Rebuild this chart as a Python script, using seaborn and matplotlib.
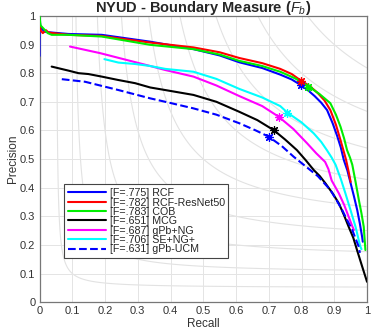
import numpy as np
import matplotlib
matplotlib.use("Agg")
import matplotlib.pyplot as plt
import seaborn as sns

# --- datos ---
methods = ["RCF", "RCF-ResNet50", "COB", "MCG", "gPb+NG", "SE+NG+", "gPb-UCM"]
fscores = [".775", ".782", ".783", ".651", ".687", ".706", ".631"]

rcf_r = [0.0, 0.0, 0.003, 0.015, 0.027, 0.088, 0.19, 0.338, 0.47, 0.55, 0.61, 0.68, 0.735, 0.77, 0.797, 0.82,
         0.84, 0.86, 0.878, 0.895, 0.909, 0.92, 0.929, 0.94, 0.95, 0.96, 0.97, 0.978, 0.985, 0.987]
rcf_p = [0.86, 0.99, 0.96, 0.945, 0.943, 0.937, 0.934, 0.91, 0.884, 0.862, 0.838, 0.818, 0.795, 0.778, 0.759, 0.74,
         0.72, 0.697, 0.671, 0.625, 0.58, 0.54, 0.497, 0.46, 0.415, 0.37, 0.322, 0.275, 0.228, 0.211]

res_r = [0.0, 0.003, 0.01, 0.02, 0.027, 0.088, 0.19, 0.338, 0.47, 0.55, 0.61, 0.68, 0.735, 0.77, 0.797, 0.825,
         0.85, 0.87, 0.888, 0.905, 0.919, 0.928, 0.936, 0.944, 0.95]
res_p = [0.985, 0.95, 0.94, 0.95, 0.942, 0.934, 0.93, 0.907, 0.89, 0.873, 0.853, 0.835, 0.815, 0.797, 0.775, 0.755,
         0.73, 0.705, 0.671, 0.62, 0.566, 0.53, 0.497, 0.455, 0.42]

cob_r = [0.0, 0.003, 0.025, 0.037, 0.088, 0.19, 0.338, 0.47, 0.55, 0.61, 0.68, 0.735, 0.78, 0.82, 0.855, 0.888,
         0.905, 0.919, 0.93, 0.939, 0.948, 0.955, 0.965, 0.975, 0.983, 0.99, 0.995]
cob_p = [1.0, 0.967, 0.94, 0.934, 0.934, 0.928, 0.899, 0.884, 0.865, 0.843, 0.825, 0.805, 0.782, 0.755, 0.727, 0.695,
         0.655, 0.613, 0.572, 0.531, 0.505, 0.48, 0.42, 0.357, 0.31, 0.263, 0.182]

mcg_r = [0.037, 0.088, 0.119, 0.149, 0.19, 0.241, 0.292, 0.338, 0.384, 0.47, 0.54, 0.61, 0.665, 0.715, 0.75, 0.786,
         0.812, 0.837, 0.856, 0.873, 0.895, 0.914, 0.93, 0.944, 0.958, 0.97, 0.985, 1.0]
mcg_p = [0.823, 0.809, 0.80, 0.797, 0.788, 0.776, 0.765, 0.75, 0.741, 0.724, 0.70, 0.665, 0.636, 0.601, 0.568, 0.531,
         0.497, 0.462, 0.44, 0.415, 0.38, 0.345, 0.303, 0.263, 0.225, 0.18, 0.125, 0.071]

ng_r = [0.093, 0.185, 0.338, 0.384, 0.47, 0.54, 0.61, 0.68, 0.73, 0.775, 0.817, 0.845, 0.872, 0.882, 0.892, 0.914,
        0.93, 0.944, 0.955, 0.96]
ng_p = [0.893, 0.87, 0.825, 0.811, 0.788, 0.757, 0.72, 0.685, 0.648, 0.605, 0.555, 0.52, 0.49, 0.465, 0.425, 0.38,
        0.34, 0.298, 0.265, 0.252]

se_r = [0.198, 0.241, 0.292, 0.338, 0.384, 0.47, 0.54, 0.61, 0.68, 0.735, 0.757, 0.8, 0.837, 0.86, 0.878, 0.892,
        0.904, 0.92, 0.934, 0.95, 0.965, 0.975, 0.98, 0.983]
se_p = [0.849, 0.837, 0.832, 0.825, 0.815, 0.805, 0.78, 0.745, 0.715, 0.685, 0.662, 0.628, 0.59, 0.56, 0.53, 0.505,
        0.48, 0.43, 0.38, 0.32, 0.263, 0.215, 0.193, 0.185]

ucm_r = [0.068, 0.139, 0.241, 0.338, 0.384, 0.47, 0.54, 0.61, 0.66, 0.70, 0.74, 0.776, 0.812, 0.85, 0.888, 0.905,
         0.924, 0.94, 0.955, 0.965, 0.975, 0.978]
ucm_p = [0.779, 0.77, 0.741, 0.712, 0.70, 0.677, 0.655, 0.625, 0.60, 0.578, 0.545, 0.508, 0.475, 0.44, 0.392, 0.36,
         0.322, 0.285, 0.252, 0.222, 0.193, 0.172]

# punto ODS de cada metodo (asteriscos)
ods_r = [0.797, 0.797, 0.82, 0.715, 0.73, 0.757, 0.70]
ods_p = [0.757, 0.772, 0.753, 0.601, 0.648, 0.662, 0.577]

curves_r = [rcf_r, res_r, cob_r, mcg_r, ng_r, se_r, ucm_r]
curves_p = [rcf_p, res_p, cob_p, mcg_p, ng_p, se_p, ucm_p]
colors = ["#0000ff", "#ff0000", "#00ee00", "#000000", "#ff00ff", "#00ffff", "#0000ff"]
styles = ["-", "-", "-", "-", "-", "-", "--"]

sns.set_theme(style="white")
plt.rcParams["font.family"] = ["Liberation Sans", "DejaVu Sans"]
plt.rcParams["mathtext.fontset"] = "custom"
plt.rcParams["mathtext.it"] = "Liberation Sans:italic"
plt.rcParams["mathtext.rm"] = "Liberation Sans"

fig = plt.figure(figsize=(3.73, 3.32), dpi=100)
ax = fig.add_axes([0.106, 0.09, 0.878, 0.862])

# lineas iso-F de fondo
gx, gy = np.meshgrid(np.linspace(0.001, 1, 400), np.linspace(0.001, 1, 400))
ff = 2 * gx * gy / (gx + gy)
ax.contour(gx, gy, ff, levels=np.arange(0.1, 1.0, 0.1), colors="#e2e2e2", linewidths=0.8, zorder=0)

for i in range(len(methods)):
    lab = f"[F={fscores[i]}] {methods[i]}"
    sns.lineplot(x=curves_r[i], y=curves_p[i], sort=False, estimator=None, color=colors[i],
                 linestyle=styles[i], linewidth=1.5, label=lab, ax=ax, zorder=3)

for i in range(len(methods)):
    sns.scatterplot(x=[ods_r[i]], y=[ods_p[i]], marker=(8, 2, 0), s=32, color=colors[i],
                    linewidth=0.9, ax=ax, zorder=4)

ax.set_xlim(0, 1)
ax.set_ylim(0, 1)
ticks = np.round(np.arange(0, 1.01, 0.1), 1)
ticklabels = ["0", "0.1", "0.2", "0.3", "0.4", "0.5", "0.6", "0.7", "0.8", "0.9", "1"]
ax.set_xticks(ticks)
ax.set_xticklabels(ticklabels)
ax.set_yticks(ticks)
ax.set_yticklabels(ticklabels)
ax.tick_params(direction="in", length=3, width=0.6, color="#666666", labelsize=8,
               labelcolor="#333333", pad=3)
ax.grid(True, color="#e4e4e4", linewidth=0.7, zorder=0)
for s in ax.spines.values():
    s.set_color("#777777")
    s.set_linewidth(0.9)

ax.set_xlabel("Recall", fontsize=8.5, color="#333333", labelpad=1)
ax.set_ylabel("Precision", fontsize=8.5, color="#333333", labelpad=1)
ax.set_title(r"NYUD - Boundary Measure ($F_b$)", fontsize=10.5, fontweight="bold", pad=3)

leg = ax.legend(loc="lower left", bbox_to_anchor=(0.075, 0.154), borderaxespad=0, fontsize=7.7,
                handlelength=3.6, labelspacing=-0.06, borderpad=0.35, handletextpad=0.3, fancybox=False,
                framealpha=1, edgecolor="#444444")
leg.get_frame().set_linewidth(0.8)

fig.savefig("out.png", dpi=100)
